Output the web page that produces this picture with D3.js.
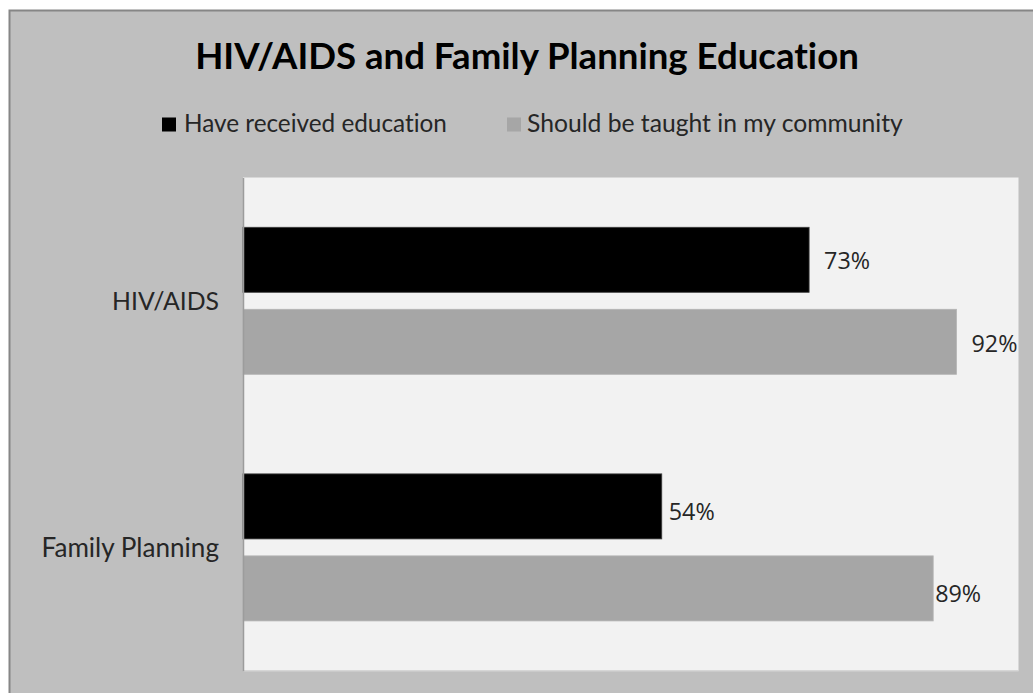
<!DOCTYPE html>
<html><head><meta charset="utf-8">
<script src="https://cdn.jsdelivr.net/npm/d3@7"></script>
<style>html,body{margin:0;padding:0;background:#fff;}svg{display:block;}text{font-variant-ligatures:none;font-feature-settings:"liga" 0;}</style>
</head><body>
<svg id="c" width="1033" height="693"></svg>
<script>
const title = "HIV/AIDS and Family Planning Education";
const categories = ["HIV/AIDS", "Family Planning"];
const seriesNames = ["Have received education", "Should be taught in my community"];
const received = [0.73, 0.54];
const taught = [0.92, 0.89];
const valueLabels = [["73%", "54%"], ["92%", "89%"]];

// layout / style (not data)
const colors = ["#000000", "#a6a6a6"];
const strokes = ["#404040", "#b4b4b4"];
const labelDx = [[15, 7], [15, 2]];
const labelDy = [[9, 13.5], [10.5, 14]];

const svg = d3.select("#c");
const W = 1033, H = 693;
const plot = {x0: 243, x1: 1018.5, y0: 177.5, y1: 670.7};

svg.append("rect").attr("x", 0).attr("y", 0).attr("width", W).attr("height", H).attr("fill", "#ffffff");
svg.append("rect").attr("x", 9.5).attr("y", 10.5).attr("width", 1100).attr("height", 800)
  .attr("fill", "#bfbfbf").attr("stroke", "#868686").attr("stroke-width", 2);

svg.append("rect").attr("x", plot.x0).attr("y", plot.y0)
  .attr("width", plot.x1 - plot.x0).attr("height", plot.y1 - plot.y0).attr("fill", "#f2f2f2");
svg.append("line").attr("x1", plot.x0).attr("x2", plot.x1).attr("y1", plot.y1).attr("y2", plot.y1)
  .attr("stroke", "#d6d6d6").attr("stroke-width", 1.5);

const x = d3.scaleLinear().domain([0, 1]).range([plot.x0, plot.x1]);
const y = d3.scaleBand().domain(categories).range([plot.y0, plot.y1]).padding(0);
const yi = d3.scaleBand().domain(seriesNames).range([0, y.bandwidth()])
  .paddingInner(0.207).paddingOuter(0.607);

const seriesVals = [received, taught];
const rows = [];
seriesNames.forEach((s, si) => categories.forEach((c, ci) => {
  rows.push({s, si, c, ci, v: seriesVals[si][ci], label: valueLabels[si][ci]});
}));

svg.append("g").selectAll("rect").data(rows).join("rect")
  .attr("x", x(0)).attr("y", d => y(d.c) + yi(d.s))
  .attr("width", d => x(d.v) - x(0)).attr("height", yi.bandwidth())
  .attr("fill", d => colors[d.si]).attr("stroke", d => strokes[d.si]).attr("stroke-width", 0.8);

const yAxis = d3.axisLeft(y).tickSize(0).tickPadding(24);
const ga = svg.append("g").attr("transform", `translate(${plot.x0},0)`).call(yAxis);
ga.select(".domain").attr("stroke", "#9c9c9c").attr("stroke-width", 1.5);
ga.selectAll("text").attr("font-family", "Lato, 'Open Sans', sans-serif")
  .attr("font-size", 20.5).attr("fill", "#262626").attr("dy", "0.38em");

function fit(sel, target) {
  const n = sel.node();
  const fs = parseFloat(sel.attr("font-size"));
  const w = n.getComputedTextLength();
  sel.attr("font-size", (fs * target / w).toFixed(2));
}

ga.selectAll(".tick text").each(function(d, i) {
  fit(d3.select(this), [107, 177.5][i]);
});

svg.append("g").selectAll("text").data(rows).join("text")
  .attr("x", d => x(d.v) + labelDx[d.si][d.ci])
  .attr("y", d => y(d.c) + yi(d.s) + yi.bandwidth() / 2 + labelDy[d.si][d.ci])
  .attr("font-family", "'Open Sans', sans-serif").attr("font-size", 23)
  .attr("fill", "#262626").text(d => d.label)
  .each(function() { fit(d3.select(this), 46); });

const t = svg.append("text").attr("x", 527).attr("y", 69).attr("text-anchor", "middle")
  .attr("font-family", "Lato, 'Open Sans', sans-serif").attr("font-weight", "bold")
  .attr("font-size", 31).attr("fill", "#000").text(title);
fit(t, 664);

const legX = [162, 507], legTextX = [184, 527], legW = [263, 376];
seriesNames.forEach((s, i) => {
  svg.append("rect").attr("x", legX[i]).attr("y", 117.5).attr("width", 14).attr("height", 14)
    .attr("fill", colors[i]);
  const lt = svg.append("text").attr("x", legTextX[i]).attr("y", 131.5)
    .attr("font-family", "Lato, 'Open Sans', sans-serif").attr("font-size", 22)
    .attr("fill", "#262626").text(s);
  fit(lt, legW[i]);
});
</script>
</body></html>
